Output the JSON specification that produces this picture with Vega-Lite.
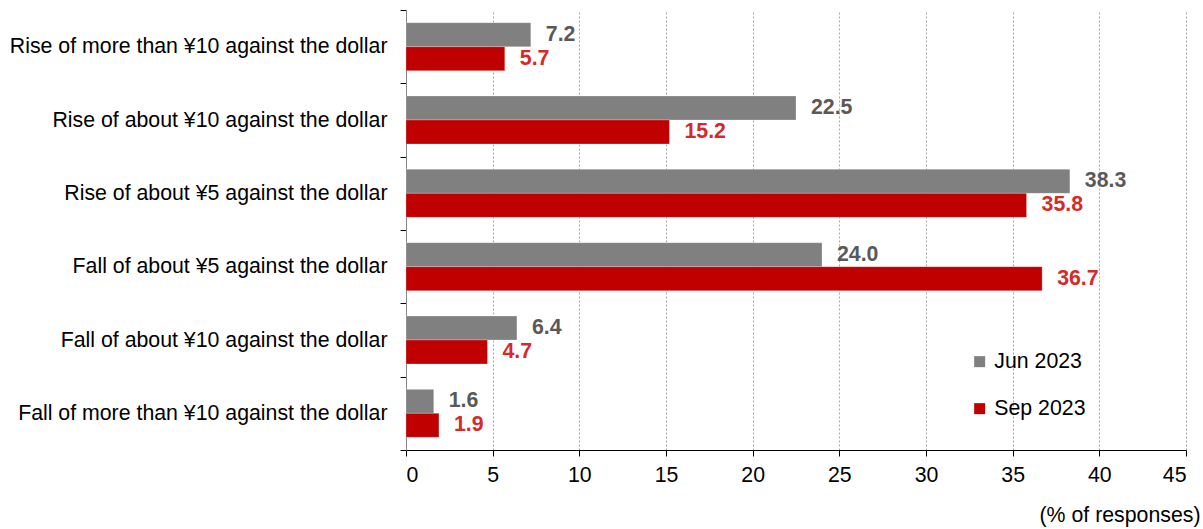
{
  "$schema": "https://vega.github.io/schema/vega-lite/v6.json",
  "width": 780,
  "height": 440,
  "autosize": {"type": "none"},
  "padding": {"left": 406, "top": 10, "right": 17, "bottom": 79},
  "background": "white",
  "config": {
    "font": "Liberation Sans",
    "view": {"stroke": null}
  },
  "data": {
    "values": [
      {"category": "Rise of more than ¥10 against the dollar", "series": "Jun 2023", "value": 7.2},
      {"category": "Rise of more than ¥10 against the dollar", "series": "Sep 2023", "value": 5.7},
      {"category": "Rise of about ¥10 against the dollar", "series": "Jun 2023", "value": 22.5},
      {"category": "Rise of about ¥10 against the dollar", "series": "Sep 2023", "value": 15.2},
      {"category": "Rise of about ¥5 against the dollar", "series": "Jun 2023", "value": 38.3},
      {"category": "Rise of about ¥5 against the dollar", "series": "Sep 2023", "value": 35.8},
      {"category": "Fall of about ¥5 against the dollar", "series": "Jun 2023", "value": 24.0},
      {"category": "Fall of about ¥5 against the dollar", "series": "Sep 2023", "value": 36.7},
      {"category": "Fall of about ¥10 against the dollar", "series": "Jun 2023", "value": 6.4},
      {"category": "Fall of about ¥10 against the dollar", "series": "Sep 2023", "value": 4.7},
      {"category": "Fall of more than ¥10 against the dollar", "series": "Jun 2023", "value": 1.6},
      {"category": "Fall of more than ¥10 against the dollar", "series": "Sep 2023", "value": 1.9}
    ]
  },
  "encoding": {
    "y": {
      "field": "category",
      "type": "nominal",
      "sort": null,
      "scale": {"paddingInner": 0, "paddingOuter": 0},
      "axis": {
        "title": null,
        "labelFontSize": 21.3,
        "labelColor": "#000000",
        "labelPadding": 13,
        "labelLimit": 500,
        "tickBand": "extent",
        "tickSize": 6,
        "tickColor": "#000000",
        "domainColor": "#868686",
        "grid": false
      }
    },
    "yOffset": {
      "field": "series",
      "type": "nominal",
      "sort": ["Jun 2023", "Sep 2023"],
      "scale": {"paddingInner": 0, "paddingOuter": 0.528}
    },
    "x": {
      "field": "value",
      "type": "quantitative",
      "scale": {"domain": [0, 45], "nice": false},
      "axis": {
        "values": [0, 5, 10, 15, 20, 25, 30, 35, 40, 45],
        "title": "(% of responses)",
        "titleFontSize": 21.3,
        "titleFontWeight": "normal",
        "titleColor": "#000000",
        "titleAnchor": "end",
        "titleAlign": "right",
        "titleBaseline": "alphabetic",
        "titleX": 794,
        "titleY": 71,
        "labelFontSize": 21.3,
        "labelColor": "#000000",
        "labelPadding": 8,
        "tickSize": 6,
        "tickColor": "#000000",
        "domainColor": "#000000",
        "grid": true,
        "gridColor": "#a6a6a6",
        "gridDash": [2, 2],
        "gridWidth": 1
      }
    }
  },
  "layer": [
    {
      "mark": {"type": "bar", "stroke": "white", "strokeWidth": 0.5, "strokeOpacity": 0.5},
      "encoding": {
        "color": {
          "field": "series",
          "type": "nominal",
          "scale": {"domain": ["Jun 2023", "Sep 2023"], "range": ["#808080", "#c00000"]},
          "legend": {
            "title": null,
            "orient": "none",
            "legendX": 563,
            "legendY": 341,
            "symbolType": "square",
            "symbolSize": 121,
            "symbolStrokeWidth": 0,
            "labelFontSize": 21.3,
            "labelColor": "#000000",
            "labelOffset": 4,
            "rowPadding": 25
          }
        }
      }
    },
    {
      "mark": {"type": "text", "align": "left", "baseline": "middle", "dx": 15, "fontSize": 21.3, "fontWeight": "bold"},
      "encoding": {
        "text": {"field": "value", "type": "quantitative", "format": ".1f"},
        "color": {
          "condition": {"test": "datum.series === 'Jun 2023'", "value": "#595959"},
          "value": "#d42a2a"
        }
      }
    }
  ]
}
